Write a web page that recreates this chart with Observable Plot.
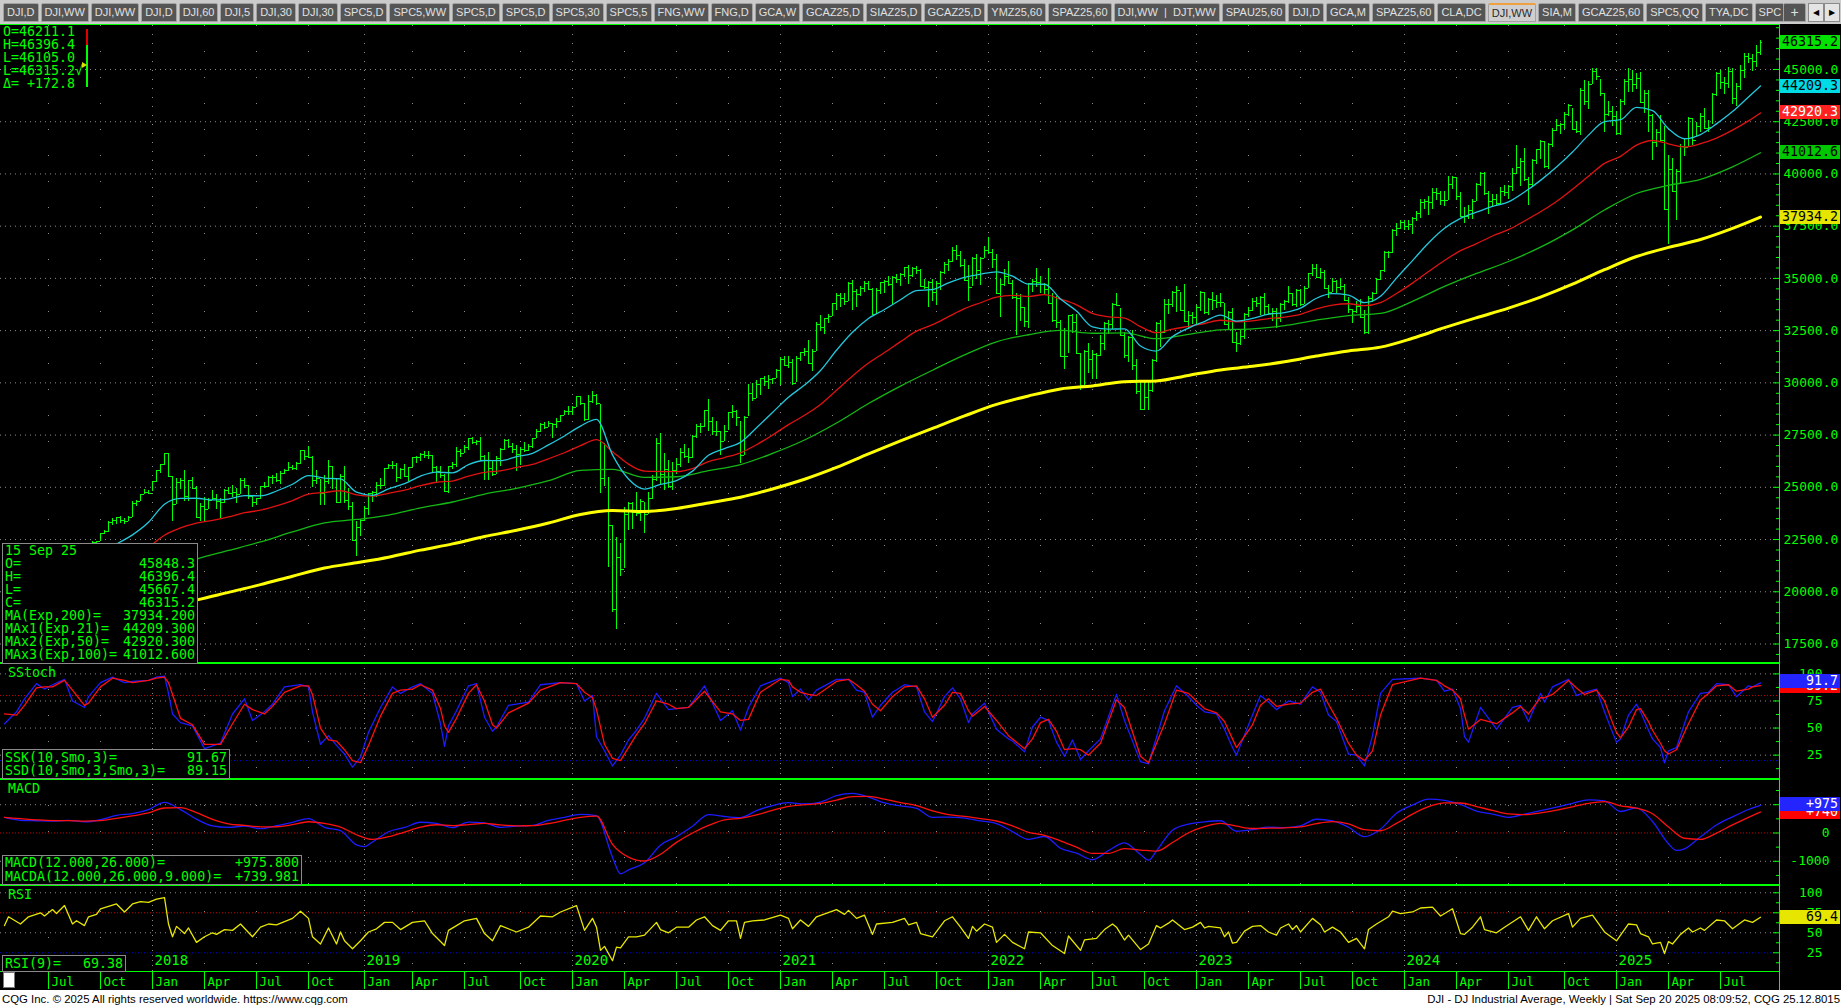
<!DOCTYPE html>
<html>
<head>
<meta charset="utf-8">
<script src="https://cdn.jsdelivr.net/npm/d3@7"></script>
<script src="https://cdn.jsdelivr.net/npm/@observablehq/plot@0.6"></script>
<style>
html, body { margin:0; padding:0; background:#000; overflow:hidden; }
#root { position:relative; width:1841px; height:1008px; background:#000; overflow:hidden; }
.abs { position:absolute; }
.txt { position:absolute; font-family:"DejaVu Sans Mono", monospace; font-size:13.3px; line-height:13px; color:#00ff00; white-space:pre; }
.box { position:absolute; background:#000; border:1px solid #8a8a8a; box-sizing:border-box; }
.row { position:absolute; left:2px; right:2px; height:13px; display:flex; justify-content:space-between; white-space:pre;
       font-family:"DejaVu Sans Mono", monospace; font-size:13.3px; line-height:13px; color:#00ff00; }
.vbox { position:absolute; left:1780px; width:60px; height:14px; box-sizing:border-box; font-family:"DejaVu Sans Mono", monospace;
        font-size:13.3px; line-height:14px; text-align:right; padding-right:2px; }
.tabs { position:absolute; left:0; top:0; width:1841px; height:24px; background:#cbcbcb; }
.tabrow { position:absolute; left:3px; top:3px; width:1780px; height:19px; overflow:hidden; display:flex; gap:2px; }
.tab { flex:none; height:19px; box-sizing:border-box; background:#555555; border:1px solid #a2a2a2; border-radius:2px 2px 0 0; color:#e0e0e0;
       font:11px "Liberation Sans", Arial, sans-serif; line-height:17px; padding:0 3px; white-space:pre; }
.tab.active { background:#cfcfcf; color:#2a2a2a; border-top:2px solid #f0a040; line-height:16px; }
.arrow { position:absolute; top:3px; width:16px; height:19px; background:#e4e4e4; border:1px solid #8a8a8a; box-sizing:border-box;
         font:8px "DejaVu Sans", sans-serif; line-height:17px; text-align:center; color:#000; }
.footer { position:absolute; left:0; top:990px; width:1841px; height:18px; background:#fff; font:11.4px "Liberation Sans", Arial, sans-serif; line-height:18px; color:#000; }
</style>
</head>
<body>
<div id="root"></div>
<script>
// ---------------- DATA (weekly DJI bars, week starting Mon 17 Apr 2017) ----------------
const firstWeek = "2017-04-17";

const high = [
 20620,21070,21060,21030,21000,21110,21230,21310,21390,21530,21480,21560,21680,21680,21930,22120,22180,22040,21910,22010,22000,22290,22420,22430,22790,22910,23370,23490,23560,23600,23500,23590,24330,24350,24670,24880,24830,
 25300,25810,26090,26620,26610,25520,25430,25440,25800,25350,25450,25050,24230,24510,24480,24860,24640,24450,24880,25000,25090,24930,25400,25410,25100,24620,24480,25030,25220,25530,25560,25680,25750,25870,26170,26060,26170,26770,26770,26950,26490,25810,25390,25550,26280,26000,25370,25600,25980,24950,24260,23380,
 23470,24100,24720,24780,25250,25440,25890,26100,26240,26160,25920,26110,25950,26430,26470,26620,26700,26700,26500,26000,26010,25600,26000,26200,26900,26800,27000,27350,27400,27240,27400,26500,26680,26250,26480,26860,27300,27300,27100,27000,26900,27150,27050,27360,27770,28050,28090,28170,28070,28290,28460,28700,
 28870,28870,29370,29370,29000,29410,29570,29440,28960,27100,25450,23190,22600,22300,24010,24260,24270,24770,24400,24270,24770,25580,27340,27580,26620,26300,26200,26390,26880,27050,26840,27490,28030,28050,28660,29200,28330,28140,27680,27980,28600,28900,28700,28150,28370,29930,29960,30120,30220,30320,30330,30230,30630,
 31200,31270,31270,31110,31240,31460,31640,32010,31610,32880,33230,33100,33260,33820,34260,34260,34260,34810,34900,34480,34630,34850,34850,34520,34500,34800,34900,35090,35070,35170,35220,35520,35630,35530,35560,35430,34970,34860,34960,34850,35330,35770,35890,36470,36570,36300,35900,35620,35980,36140,35980,36530,
 36950,36400,36160,34940,35440,35830,34920,34260,34230,33620,34770,34930,35490,35080,34770,35490,34290,34120,32990,32620,33240,33260,33280,31400,31560,31890,31560,31400,32280,32910,32990,33800,34280,33560,32420,32200,32510,31100,30030,30100,30040,31100,32900,33000,33990,33990,34360,34590,34320,34710,33420,33390,
 33680,34350,34340,34020,34340,34170,34290,33790,33410,33570,32420,32540,33310,33630,34030,34100,34110,34260,33760,33580,33560,33800,33940,34590,34300,34450,34450,34630,35230,35680,35680,35470,35400,34680,34980,34890,34980,34700,34080,33510,33910,34000,33460,34120,34320,35010,35400,36280,36270,37350,37640,37780,
 37790,37790,37910,38200,38790,38800,38930,39280,39290,39180,39170,39890,39890,39810,39120,38390,38510,38760,39530,40050,40080,39170,39030,39040,39330,39460,39470,40260,41380,40740,41200,39840,40680,41190,41590,41570,41480,42160,42630,42410,42920,43330,43140,42520,44070,44490,44440,45060,45070,44510,43860,43460,
 43240,43000,43560,44510,45050,44950,44800,44850,44010,43980,42860,42130,42820,42250,40900,40720,40220,41400,41680,42700,42640,42440,42890,43110,42580,43830,44880,44930,44640,45100,45050,44320,45200,45760,45760,45740,46160,46396
];
const low = [
 20380,20600,20860,20850,20550,20820,20990,21070,21230,21350,21200,21280,21380,21520,21560,21820,21840,21600,21620,21700,21710,21870,22240,22250,22420,22730,22850,23160,23240,23270,23240,23350,23550,24080,24320,24640,24690,
 24810,25240,25660,26030,25490,23360,24160,24880,24330,24340,24900,23510,23340,23340,23930,24360,23920,23530,24230,24660,24530,24210,24650,24940,24410,24010,24110,24400,24920,25000,25130,25240,25120,25600,25740,25800,25800,26100,26300,26370,25000,25130,24120,24120,25150,24900,24270,24220,24240,23880,22400,21710,
 22640,23360,23670,24290,24530,24880,25020,25830,25850,25210,25390,25490,25300,25960,26140,26250,26360,26310,25680,25220,25400,24800,24680,25870,25970,26430,26600,26750,27040,27010,26230,25340,25340,25500,25600,26020,26750,26840,26610,25740,26060,26690,26700,26850,27340,27600,27750,27860,27330,27830,28110,28430,
 28420,28420,28820,28900,28170,28180,29000,28930,24680,25030,21150,19030,18210,20740,21120,22940,23000,23600,23360,22790,23720,24430,25280,25080,24850,24930,24840,25620,25960,26360,26140,26390,27350,27560,27860,27660,27460,27450,26540,27200,27700,28310,27920,26140,26500,28400,29100,29270,29380,29840,29690,29920,30230,
 29880,30760,30700,29860,30000,31040,31270,30900,30550,31500,32470,32300,32830,33170,33460,33610,33690,33900,33470,33590,34110,34330,34400,33270,33270,34250,34270,34610,33740,34760,34630,35050,34710,35050,35210,34600,34450,33610,33900,33700,34430,35200,35310,35780,35880,35520,34870,33900,34630,34970,34640,35960,
 36160,35490,34260,33150,34620,34690,33980,32270,32960,32630,32580,34320,34560,34280,34220,33760,32910,32620,31230,30640,31400,32380,31390,29650,29870,30470,30140,30140,31240,31530,32320,32570,33650,32280,31150,30970,30600,29440,28720,28690,28660,29560,30980,31700,32340,33250,33590,33380,33400,32920,32570,32810,
 32810,33420,33270,33210,33460,33580,33620,32790,32500,31890,31430,31810,32090,33110,33400,33630,33240,33240,33220,32960,32590,32900,33480,33790,33660,33630,33670,33760,34530,35070,34980,34930,34500,34030,34340,34260,34430,33930,33300,32850,33320,33100,32330,32330,33850,34210,34920,35280,35950,36190,37010,37330,
 37300,37270,37120,37710,37890,38300,38000,38320,38740,38500,38460,38720,39240,38710,37960,37610,37840,37820,38680,39400,38970,38050,38420,38440,38550,38920,38760,39160,39980,39420,39620,38500,39380,40440,40670,40260,40190,41250,42010,41870,42110,42760,42090,41950,41850,43270,43070,44280,44470,43720,42000,42750,
 42290,41840,41840,43300,43880,43900,44060,43370,42910,42000,40660,41290,41560,38310,36610,39140,37780,39560,40830,41250,41370,41780,41990,42120,41980,42380,43730,44030,43820,44100,43340,43220,43980,44560,45270,44920,45100,45667
];
const close = [
 20548,20941,21007,20897,20805,21080,21206,21272,21384,21395,21350,21414,21638,21580,21830,22092,21858,21675,21814,21988,21798,22268,22350,22405,22774,22871,23329,23434,23539,23422,23358,23558,24231,24329,24652,24754,24719,
 25296,25803,26072,26616,25521,24190,25219,25310,24538,25336,24946,23533,24103,23933,24360,24463,24311,24263,24831,24715,24753,24635,25317,25090,24581,24271,24456,25019,25058,25451,25463,25313,25669,25790,25965,25917,26155,26744,26458,26447,25340,25444,24688,25271,25989,25413,24286,25538,24389,24101,22445,23062,
 23433,23996,24706,24737,25064,25106,25883,26031,26026,25450,25849,25502,25929,26425,26412,26559,26543,26505,25942,25764,25586,24815,25984,26090,26719,26600,26922,27332,27154,27192,26485,26287,25886,25629,26403,26797,27220,26935,26820,26573,26817,26770,26958,27347,27681,28005,27876,28051,28015,28135,28455,28645,
 28634,28823,29348,28990,28256,29102,29398,28992,25409,25865,23186,19174,21637,21053,23719,24242,23775,23724,24331,23685,24465,25383,27111,25606,25871,25016,25827,26075,26672,26470,26428,27433,27931,27930,28654,28133,27666,27657,27174,27683,28587,28606,28336,26502,28323,29480,29263,29910,30218,30046,30179,30200,30606,
 31098,30814,30997,29983,31148,31458,31494,30932,31496,32779,32628,33073,33153,33801,34200,34043,33875,34778,34382,34208,34529,34756,34480,33290,34433,34786,34870,34687,35061,34935,35208,35515,35120,35455,35369,34607,34584,34798,34326,34746,35295,35677,35820,36328,36100,35602,34899,34580,35971,35365,35951,36338,
 36231,35912,34265,34725,35089,34738,34079,34058,33614,32944,34754,34861,34818,34721,34451,33811,32977,32899,31261,31262,33213,32900,31393,29888,31501,31097,31338,31289,31899,32845,32803,33761,33706,32283,31318,32152,30822,29590,28726,29297,29635,31083,32861,32403,33748,33746,34347,34430,33477,32920,33204,33147,
 33631,34303,33375,33978,33926,33869,33827,32817,33391,31910,31862,32238,33274,33485,33886,33809,34098,33674,33301,33427,33093,33763,33877,34299,33727,34408,33735,34509,35228,35459,35066,35281,34500,34346,34838,34577,34618,33964,33508,33407,33670,33127,32418,34061,34283,34947,35390,36245,36248,37306,37386,37690,
 37466,37593,37863,38109,38654,38672,38628,39131,39087,38723,38715,39476,39807,38904,37983,37986,38240,38676,39513,40004,39070,38686,38799,38589,39150,39119,39376,40001,40288,40589,39737,39498,40660,41175,41563,40345,41394,42063,42313,42353,42864,43276,42115,42052,43989,43445,44297,44911,44643,43828,42840,42992,
 42732,41938,43488,44424,44545,44303,44546,43428,43841,42802,41488,41985,41583,38315,40212,39142,40113,41317,41249,42655,41603,42270,42763,42197,42206,43819,44828,44372,44342,44902,43589,44176,44946,45632,45545,45401,45834,46315
];

// moving averages read every 4 weeks (21, 50) and every 8 weeks (100, 200), last point = last bar
const ema21 = [
 20680,20753,20910,21081,21321,21479,21787,22282,22725,23326,
 24190,24466,24477,24394,24437,24600,24594,24824,25146,25559,
 25442,25400,24766,24618,24923,25172,25539,25726,25692,26091,
 26284,26273,26469,26628,27031,27459,27932,28252,26555,25396,
 24916,25146,25322,25775,26531,26853,27153,27850,28582,29311,
 29894,30593,31562,32420,33080,33514,33979,34418,34469,34789,
 35046,35206,35315,35107,34724,34720,34016,33437,32680,32575,
 32583,31764,31522,32212,32624,32936,33241,32959,33083,33285,
 33366,33580,34051,34269,34200,33836,34142,35016,35851,36695,
 37399,37875,38169,38448,38661,39133,39693,40329,41049,41858,
 42505,42595,43184,43031,42165,41685,41886,42398,42985,43687,
 44209
];
const ema50 = [
 19900,20050,20225,20406,20618,20796,21041,21375,21710,22141,
 22705,23054,23281,23419,23583,23785,23903,24113,24368,24676,
 24752,24835,24637,24575,24715,24862,25079,25243,25299,25534,
 25718,25786,25949,26100,26366,26654,26994,27282,26707,26108,
 25778,25758,25749,25897,26232,26426,26653,27037,27499,27999,
 28446,28966,29646,30330,30947,31450,31972,32474,32786,33171,
 33550,33834,34109,34191,34139,34223,34004,33735,33324,33159,
 33101,32689,32398,32570,32709,32842,32998,32924,32968,33079,
 33147,33279,33543,33720,33786,33693,33837,34275,34774,35327,
 35858,36329,36665,37031,37331,37748,38188,38682,39269,39888,
 40506,40844,41378,41602,41442,41296,41447,41716,42098,42539,
 42920
];
const ema100 = [
 18500,18881,19290,19711,20249,20993,21560,21976,22389,22861,
 23299,23462,23670,24018,24297,24673,24948,25316,25806,25860,
 25477,25505,25794,26088,26623,27264,28077,29010,29846,30605,
 31338,31965,32303,32513,32374,32391,32114,32324,32536,32584,
 32739,33008,33222,33324,33901,34614,35237,35809,36494,37322,
 38273,39065,39456,39742,40340,
 41013
];
const ema200 = [
 17350,17637,17946,18268,18658,19168,19603,19971,20340,20744,
 21135,21387,21655,21992,22294,22643,22943,23289,23701,23891,
 23843,23984,24251,24523,24922,25386,25953,26602,27223,27820,
 28416,28967,29374,29709,29852,30055,30091,30356,30618,30790,
 31009,31282,31526,31710,32134,32641,33117,33578,34106,34721,
 35416,36048,36483,36861,37394,
 37934
];

// slow stochastic (week index, SSK, SSD)
const stochWeek = [
 0,3,5,8,10,12,15,17,20,21, 24,27,30,32,36,38,40,41,42,44, 47,50,54,57,60,62,65,67,70,74,
 76,77,79,81,83,85,87,89,91,94, 97,99,102,104,107,109,110,111,113,116, 118,120,122,123,126,131,134,139,143,145,
 147,148,150,152,154,156,158,160,163,166, 168,171,175,179,182,184,186,189,194,196, 197,199,201,203,208,211,213,215,217,219,
 222,225,228,230,232,235,237,239,241,242, 245,248,251,252,255,257,259,261,263,265, 267,269,271,274,278,280,284,286,290,293,
 296,298,300,303,305,307,308,312,314,316, 318,321,324,327,329,331,333,336,338,340, 342,344,347,354,358,360,362,364,365,366,
 369,373,377,379,381,384,385,387,391,393, 395,398,400,402,403,404,406,408,409,411, 412,414,415,416,418,421,424,426,428,431,
 433,436,437,439
];
const ssk = [
 54,65,77,91,86,90,95,75,69,79, 92,97,92,93,94,97,98,82,63,55, 52,31,36,63,77,57,65,72,88,90,
 88,65,35,43,34,26,14,23,46,69, 88,82,88,91,82,54,33,52,66,89, 91,60,47,51,71,74,90,92,91,75,
 80,42,29,15,25,39,48,59,82,67, 68,69,89,57,66,48,69,89,96,92, 79,86,76,85,95,95,85,83,60,71,
 83,90,88,65,56,79,87,77,55,63, 73,49,40,38,28,51,60,57,37,24, 39,21,29,40,81,57,19,17,66,89,
 79,71,65,63,49,32,25,62,80,74, 67,75,72,88,83,62,56,26,25,15, 43,82,95,96,94,84,86,68,42,37,
 69,49,69,71,56,82,74,88,95,80, 83,86,65,46,37,40,62,72,65,48, 40,32,18,29,32,65,82,83,91,90,
 79,89,88,91.7
];
const ssd = [
 63,62,71,87,88,88,94,85,71,73, 88,96,94,92,94,96,97,92,81,59, 53,35,35,54,72,67,63,70,83,89,
 89,81,50,39,38,30,20,18,34,61, 82,85,86,90,85,68,52,46,59,82, 90,75,53,50,64,73,85,92,91,83,
 78,67,35,22,20,32,44,54,75,72, 68,69,84,65,63,57,58,83,95,94, 88,83,81,80,93,95,90,84,72,66,
 79,88,89,77,60,71,83,82,66,61, 70,57,43,40,31,40,55,58,47,30, 31,30,25,36,76,69,24,18,54,85,
 82,75,68,64,56,40,32,53,71,77, 70,72,73,83,86,72,59,36,25,20, 29,62,90,96,94,89,85,77,62,49,
 58,54,64,70,63,78,78,81,94,87, 81,85,75,55,46,41,51,67,68,56, 48,36,29,26,30,54,76,82,89,90,
 84,86,88,89.2
];

// MACD line (week index, value) and its signal line (every 4 weeks)
const macdWeek = [
 0,4,8,12,16,20,24,28,32,36, 40,44,48,52,56,60,64,68,72,76, 80,84,88,90,92,96,100,104,108,112,
 116,120,124,128,132,136,140,144,148,152, 154,156,160,164,168,172,176,180,184,188, 192,196,200,204,208,212,216,220,224,228,
 232,236,240,244,248,252,256,260,264,268, 272,276,280,284,286,288,292,296,300,304, 308,312,316,320,324,328,332,336,340,344,
 348,352,356,360,364,368,372,376,380,384, 388,392,396,400,404,408,412,416,418,420, 424,428,432,436,439
];
const macd = [
 550,448,433,418,448,391,468,625,682,824, 1084,827,490,249,196,246,151,256,378,510, 201,87,-420,-480,-317,44,195,379,342,190,
 386,359,199,246,267,443,554,657,611,-857, -1440,-1300,-1053,-429,-131,236,652,582,545,792, 969,1070,1028,1094,1318,1400,1271,1060,955,874,
 552,563,528,428,335,51,-224,-123,-538,-713, -945,-619,-351,-763,-960,-630,100,313,394,433, 61,120,204,189,252,485,429,203,-129,135,
 694,986,1200,1156,1011,777,669,550,666,791, 914,1048,1172,1138,760,890,405,-380,-615,-560, -136,282,570,830,976
];
const macdSignal = [
 550,508,466,440,439,421,435,519,605,709,
 883,896,717,484,324,269,217,221,292,397,
 337,210,-62,-227,-132,34,204,292,259,299,
 339,285,254,258,335,444,551,595,-400,-850,
 -990,-751,-330,0,266,465,519,636,801,942,
 1000,1044,1165,1282,1296,1195,1072,970,782,651,
 585,511,424,255,22,-82,-276,-502,-722,-720,
 -551,-602,-642,-336,8,221,339,242,159,170,
 184,213,331,399,324,117,80,341,669,930,
 1065,1059,935,798,673,648,710,808,926,1049,
 1108,962,880,682,215,-186,-226,-2,284,553,
 740
];

// RSI(9) (week index, value)
const rsiWeek = [
 0,1,4,6,9,10,12,13,15,17, 18,20,21,23,24,28,30,32,34,36, 38,40,41,42,43,45,46,48,50,52, 53,55,57,59,62,64,66,68,72,74,
 76,77,79,81,83,84,85,87,89,91, 93,95,97,99,102,105,107,110,111,113, 115,118,120,122,124,128,131,134,137,139, 143,145,147,148,149,150,152,153,154,156,
 158,160,163,164,166,168,171,173,175,177, 179,181,183,184,185,187,190,194,196,197, 199,201,203,208,210,211,213,215,217,218, 222,225,226,228,229,232,235,237,239,241,
 242,243,245,247,248,250,252,255,256,259, 262,265,266,269,270,273,275,277,278,280, 281,284,286,288,289,291,292,295,297,299, 300,301,304,305,306,307,308,310,312,314,
 316,318,319,321,322,323,324,327,329,330, 332,334,336,338,340,341,343,346,347,349, 352,354,357,359,362,364,365,367,369,370, 373,375,379,381,383,385,387,391,392,394,
 397,400,403,406,408,409,411,412,414,415, 416,417,419,421,422,424,425,428,430,432, 435,437,439
];
const rsi = [
 59,70,61,70,75,71,79,74,84,61, 65,59,70,73,80,86,76,86,89,88, 92,94,61,45,58,49,56,38,45,50, 48,54,53,61,45,57,61,60,68,77,
 68,45,36,56,36,51,40,30,40,51, 55,63,63,54,63,65,49,34,53,59, 65,68,49,40,59,51,57,71,70,76, 84,53,68,57,28,33,15,32,31,45,
 45,47,63,54,50,57,57,66,70,59, 53,65,65,43,63,65,66,72,68,55, 66,58,70,79,73,78,68,72,48,61, 63,68,60,63,49,45,65,70,57,43,
 58,52,61,57,38,48,38,30,51,50, 34,24,46,28,41,43,54,61,57,41, 47,29,36,59,56,62,66,54,57,63, 56,58,56,45,51,37,38,52,58,59,
 51,47,56,61,54,59,51,68,60,51, 57,51,38,43,30,54,61,70,77,74, 76,81,82,71,80,49,48,57,70,54, 50,57,70,53,70,55,65,74,57,68,
 72,51,40,61,60,49,45,36,38,24, 39,36,48,56,51,56,53,66,65,55, 66,63,69.4
];

// axis ticks and labels
const priceTicks = [17500,20000,22500,25000,27500,30000,32500,35000,37500,40000,42500,45000];
const stochTicks = [100,75,50,25];
const macdTicks = [1000,0,-1000];
const rsiTicks = [100,75,50,25];
const quarterMonths = [0,3,6,9];
const quarterLabels = ["Jan","Apr","Jul","Oct"];
const axisYears = [2017,2018,2019,2020,2021,2022,2023,2024,2025];

// texts
const tabs = ["DJI,D","DJI,WW","DJI,WW","DJI,D","DJI,60","DJI,5","DJI,30","DJI,30","SPC5,D","SPC5,WW","SPC5,D","SPC5,D","SPC5,30","SPC5,5",
  "FNG,WW","FNG,D","GCA,W","GCAZ25,D","SIAZ25,D","GCAZ25,D","YMZ25,60","SPAZ25,60","DJI,WW  |  DJT,WW","SPAU25,60","DJI,D","GCA,M",
  "SPAZ25,60","CLA,DC","DJI,WW","SIA,M","GCAZ25,60","SPC5,QQ","TYA,DC","SPC"];
const plusTab = "+";
const activeTab = 28;
const headerLines = ["O=46211.1","H=46396.4","L=46105.0","L=46315.2\u221a","\u0394= +172.8"];
const priceInfo = [["15 Sep 25",""],["O=","45848.3"],["H=","46396.4"],["L=","45667.4"],["C=","46315.2"],
  ["MA(Exp,200)=","37934.200"],["MAx1(Exp,21)=","44209.300"],["MAx2(Exp,50)=","42920.300"],["MAx3(Exp,100)=","41012.600"]];
const stochInfo = [["SSK(10,Smo,3)=","91.67"],["SSD(10,Smo,3,Smo,3)=","89.15"]];
const macdInfo = [["MACD(12.000,26.000)=","+975.800"],["MACDA(12.000,26.000,9.000)=","+739.981"]];
const rsiInfo = [["RSI(9)=","69.38"]];
const lastLabels = {close:"46315.2", ema21:"44209.3", ema50:"42920.3", ema100:"41012.6", ema200:"37934.2", ssk:"91.7", ssd:"89.2", macd:"+975", signal:"+740", rsi:"69.4"};
const lastValues = {close:46315.2, ema21:44209.3, ema50:42920.3, ema100:41012.6, ema200:37934.2, ssk:91.67, ssd:89.15, macd:975.8, signal:739.98, rsi:69.38};
const footerLeft = "CQG Inc. \u00a9 2025 All rights reserved worldwide. https://www.cqg.com";
const footerRight = "DJI - DJ Industrial Average, Weekly | Sat Sep 20 2025 08:09:52, CQG 25.12.8015";

// ---------------- BUILD ----------------
const root = document.getElementById("root");
const MONO = "DejaVu Sans Mono, monospace";
const GREEN = "#00ff00", GRID = "#8c8c8c";
const DAY = 864e5, WEEK = 7 * DAY;
const t0 = Date.parse(firstWeek + "T00:00:00Z");
const dateAt = i => new Date(t0 + i * WEEK);
const W = 1841, MR = 62;
const X_DOMAIN = [dateAt(-1), dateAt(443.75)];

function add(tag, cls, css, text) {
  const e = document.createElement(tag);
  if (cls) e.className = cls;
  if (css) Object.assign(e.style, css);
  if (text != null) e.textContent = text;
  root.appendChild(e);
  return e;
}

const bars = close.map((c, i) => ({date: dateAt(i), h: high[i], l: low[i], c, o: i ? close[i - 1] : c}));
const ix4 = d3.range(0, 440, 4).concat([439]);
const ix8 = d3.range(0, 440, 8).concat([439]);
const pts = (idx, vals) => vals.map((v, k) => ({date: dateAt(idx[k]), v}));

const quarterTicks = [];
for (const y of axisYears) quarterMonths.forEach((m, q) => {
  const i = Math.ceil((Date.UTC(y, m, 1) - t0) / WEEK);
  if (i >= 0 && i < close.length) quarterTicks.push({date: dateAt(i), y, label: quarterLabels[q], jan: m === 0});
});
const janTicks = quarterTicks.filter(d => d.jan);
const otherQ = quarterTicks.filter(d => !d.jan);

function panel(top, height, yDomain, marks, yearDash) {
  const svg = Plot.plot({
    width: W, height, marginLeft: 0, marginRight: MR, marginTop: 0, marginBottom: 0,
    x: {type: "utc", domain: X_DOMAIN, axis: null},
    y: {domain: yDomain, axis: null},
    style: {background: "transparent", overflow: "visible", fontFamily: MONO},
    marks: [
      Plot.ruleX(otherQ, {x: "date", stroke: GRID, strokeDasharray: "1,25"}),
      Plot.ruleX(janTicks, {x: "date", stroke: GRID, strokeDasharray: yearDash}),
      ...marks
    ]
  });
  const wrap = add("div", "abs", {left: "0px", top: top + "px"});
  wrap.appendChild(svg);
  return svg;
}
const axisTicks = (vals, isMajor) => Plot.ruleY(vals, {y: d => d,
  x1: d => dateAt(443.75 - (isMajor(d) ? 1.5 : 0.75)), x2: dateAt(443.75), stroke: GREEN});
const rightLabels = (vals, fmt, dx, anchor, size) => Plot.text(vals, {y: d => d, text: fmt, frameAnchor: "right",
  dx, textAnchor: anchor, fill: GREEN, fontSize: size, fontFamily: MONO});

// price panel
const priceTop = 25;
const price = panel(priceTop, 636, [16662, 47106], [
  Plot.ruleY(priceTicks, {stroke: GRID, strokeDasharray: "1,4"}),
  Plot.ruleX(bars, {x: "date", y1: "l", y2: "h", stroke: GREEN, shapeRendering: "crispEdges"}),
  Plot.ruleY(bars, {y: "c", x1: "date", x2: d => new Date(+d.date + 3 * DAY), stroke: GREEN, shapeRendering: "crispEdges"}),
  Plot.ruleY(bars.slice(1), {y: "o", x1: d => new Date(+d.date - 3 * DAY), x2: "date", stroke: GREEN, shapeRendering: "crispEdges"}),
  Plot.line(pts(ix8, ema100), {x: "date", y: "v", stroke: "#14b814", strokeWidth: 1.3, curve: "monotone-x"}),
  Plot.line(pts(ix4, ema50), {x: "date", y: "v", stroke: "#e01212", strokeWidth: 1.3, curve: "monotone-x"}),
  Plot.line(pts(ix4, ema21), {x: "date", y: "v", stroke: "#22c8dc", strokeWidth: 1.3, curve: "monotone-x"}),
  Plot.line(pts(ix8, ema200), {x: "date", y: "v", stroke: "#ffff00", strokeWidth: 3, curve: "monotone-x"}),
  axisTicks(d3.range(17000, 47001, 500), d => d % 2500 === 0),
  rightLabels(priceTicks, d => d.toFixed(1), 4, "start", 13)
], "1,8");

// stochastic panel
const stTop = 663;
const stPts = stochWeek.map((w, k) => ({date: dateAt(w), k: ssk[k], d: ssd[k]}));
const stoch = panel(stTop, 116, [2.5, 109.6], [
  Plot.ruleY(stochTicks, {stroke: GRID, strokeDasharray: "1,4"}),
  Plot.ruleY([80], {stroke: "#c40000", strokeDasharray: "1,2"}),
  Plot.ruleY([20], {stroke: "#0000d8", strokeDasharray: "1,2"}),
  Plot.line(stPts, {x: "date", y: "k", stroke: "#1c1cff", strokeWidth: 1.3}),
  Plot.line(stPts, {x: "date", y: "d", stroke: "#ff1010", strokeWidth: 1.3}),
  axisTicks(d3.range(12.5, 109, 12.5), d => d % 25 === 0),
  rightLabels(stochTicks, d => String(d), 43, "end", 13)
], "1,4");

// MACD panel
const mTop = 779;
const macd1 = macdWeek.map((w, k) => ({date: dateAt(w), v: macd[k]}));
const mPanel = panel(mTop, 106, [-1855, 1890], [
  Plot.ruleY([1000, -1000], {stroke: GRID, strokeDasharray: "1,4"}),
  Plot.ruleY([0], {stroke: "#c40000", strokeDasharray: "1,2"}),
  Plot.line(macd1, {x: "date", y: "v", stroke: "#1c1cff", strokeWidth: 1.3, curve: "monotone-x"}),
  Plot.line(pts(ix4, macdSignal), {x: "date", y: "v", stroke: "#ff1010", strokeWidth: 1.3, curve: "monotone-x"}),
  axisTicks(d3.range(-1500, 1600, 500), d => d % 1000 === 0),
  rightLabels(macdTicks, d => String(d), 50, "end", 13)
], "1,4");

// RSI panel
const rTop = 885;
const rsiPts = rsiWeek.map((w, k) => ({date: dateAt(w), v: rsi[k]}));
const rPanel = panel(rTop, 86, [1.6, 109.1], [
  Plot.ruleY([100, 50], {stroke: GRID, strokeDasharray: "1,4"}),
  Plot.ruleY([75], {stroke: "#c40000", strokeDasharray: "1,2"}),
  Plot.ruleY([25], {stroke: "#0000d8", strokeDasharray: "1,2"}),
  Plot.line(rsiPts, {x: "date", y: "v", stroke: "#e8e800", strokeWidth: 1.3}),
  axisTicks(d3.range(12.5, 109, 12.5), d => d % 25 === 0),
  rightLabels(rsiTicks, d => String(d), 43, "end", 13),
  Plot.text(janTicks, {x: "date", text: d => String(d.y), frameAnchor: "bottom", dy: -7, dx: 2, textAnchor: "start",
    fill: GREEN, fontSize: 14, fontFamily: MONO})
], "1,4");

// date axis
const axisSvg = Plot.plot({
  width: W, height: 18, marginLeft: 0, marginRight: MR, marginTop: 0, marginBottom: 0,
  x: {type: "utc", domain: X_DOMAIN, axis: null},
  style: {background: "transparent", overflow: "visible", fontFamily: MONO},
  marks: [
    Plot.ruleX(quarterTicks, {x: "date", stroke: GREEN}),
    Plot.text(quarterTicks, {x: "date", text: "label", dx: 3, dy: 1, textAnchor: "start", fill: GREEN, fontSize: 12.5, fontFamily: MONO})
  ]
});
add("div", "abs", {left: "0px", top: "971px"}).appendChild(axisSvg);

// frame lines
add("div", "abs", {left: "0px", top: "24px", width: "1780px", height: "1px", background: GREEN});
add("div", "abs", {left: "1779px", top: "24px", width: "1px", height: "966px", background: GREEN});
[662, 778, 884].forEach(y => add("div", "abs", {left: "0px", top: y + "px", width: "1780px", height: "2px", background: GREEN}));
add("div", "abs", {left: "0px", top: "971px", width: "1780px", height: "1px", background: GREEN});
add("div", "abs", {left: "3px", top: "972px", width: "12px", height: "16px", background: "#fff", border: "1px solid #777", boxSizing: "border-box"});

// header (top-left)
headerLines.forEach((t, k) => add("div", "txt", {left: "3px", top: (25 + 12.9 * k) + "px"}, t));
add("div", "abs", {left: "86px", top: "29px", width: "2px", height: "16px", background: "#e00000"});
add("div", "abs", {left: "86px", top: "45px", width: "2px", height: "42px", background: GREEN});
add("div", "abs", {left: "82px", top: "62px", width: "0px", height: "0px", borderTop: "3px solid transparent",
  borderBottom: "3px solid transparent", borderLeft: "5px solid #e0e000"});

// panel titles
add("div", "txt", {left: "8px", top: "666px"}, "SStoch");
add("div", "txt", {left: "8px", top: "782px"}, "MACD");
add("div", "txt", {left: "8px", top: "888px"}, "RSI");

// info boxes
function infoBox(left, top, width, height, rows, firstCenter, step) {
  const b = add("div", "box", {left: left + "px", top: top + "px", width: width + "px", height: height + "px"});
  rows.forEach(([a, v], k) => {
    const r = document.createElement("div");
    r.className = "row";
    r.style.top = (firstCenter + step * k - top - 6.5 - 1) + "px";
    const s1 = document.createElement("span"); s1.textContent = a;
    const s2 = document.createElement("span"); s2.textContent = v;
    r.appendChild(s1); r.appendChild(s2); b.appendChild(r);
  });
}
infoBox(2, 543, 196, 121, priceInfo, 550, 13);
infoBox(2, 749, 228, 30, stochInfo, 757, 13);
infoBox(2, 855, 300, 30, macdInfo, 862.5, 13.5);
infoBox(2, 955, 124, 17, rsiInfo, 963, 13);

// right value boxes at the last values (positions through the plot scales)
function vbox(cy, text, bg, fg) {
  add("div", "vbox", {top: (cy - 7) + "px", background: bg, color: fg}, text);
}
const py = v => priceTop + price.scale("y").apply(v);
vbox(py(lastValues.close), lastLabels.close, "#00e400", "#000");
vbox(py(lastValues.ema21), lastLabels.ema21, "#00dce6", "#000");
vbox(py(lastValues.ema50), lastLabels.ema50, "#ff2020", "#fff");
vbox(py(lastValues.ema100), lastLabels.ema100, "#00c800", "#000");
vbox(py(lastValues.ema200), lastLabels.ema200, "#e6e600", "#000");
vbox(stTop + stoch.scale("y").apply(lastValues.ssd) + 1, lastLabels.ssd, "#ff0000", "#fff");
vbox(stTop + stoch.scale("y").apply(lastValues.ssk) - 1, lastLabels.ssk, "#2424ff", "#fff");
vbox(mTop + mPanel.scale("y").apply(lastValues.signal), lastLabels.signal, "#ff0000", "#fff");
vbox(mTop + mPanel.scale("y").apply(lastValues.macd) - 1, lastLabels.macd, "#2424ff", "#fff");
vbox(rTop + rPanel.scale("y").apply(lastValues.rsi), lastLabels.rsi, "#e6e600", "#000");

// tab bar
const tb = add("div", "tabs");
const row = document.createElement("div"); row.className = "tabrow"; tb.appendChild(row);
tabs.forEach((t, k) => {
  const e = document.createElement("div");
  e.className = "tab" + (k === activeTab ? " active" : "");
  e.textContent = t; row.appendChild(e);
});
const plus = document.createElement("div");
plus.className = "tab";
Object.assign(plus.style, {position: "absolute", left: "1783px", top: "3px", width: "23px", textAlign: "center", fontSize: "14px"});
plus.textContent = plusTab; tb.appendChild(plus);
add("div", "arrow", {left: "1808px"}, "\u25c0");
add("div", "arrow", {left: "1824px"}, "\u25b6");

// footer
const ft = add("div", "footer");
const fl = document.createElement("span"); fl.textContent = footerLeft; fl.style.position = "absolute"; fl.style.left = "2px"; ft.appendChild(fl);
const fr = document.createElement("span"); fr.textContent = footerRight; fr.style.position = "absolute"; fr.style.right = "1px"; ft.appendChild(fr);
</script>
</body>
</html>
